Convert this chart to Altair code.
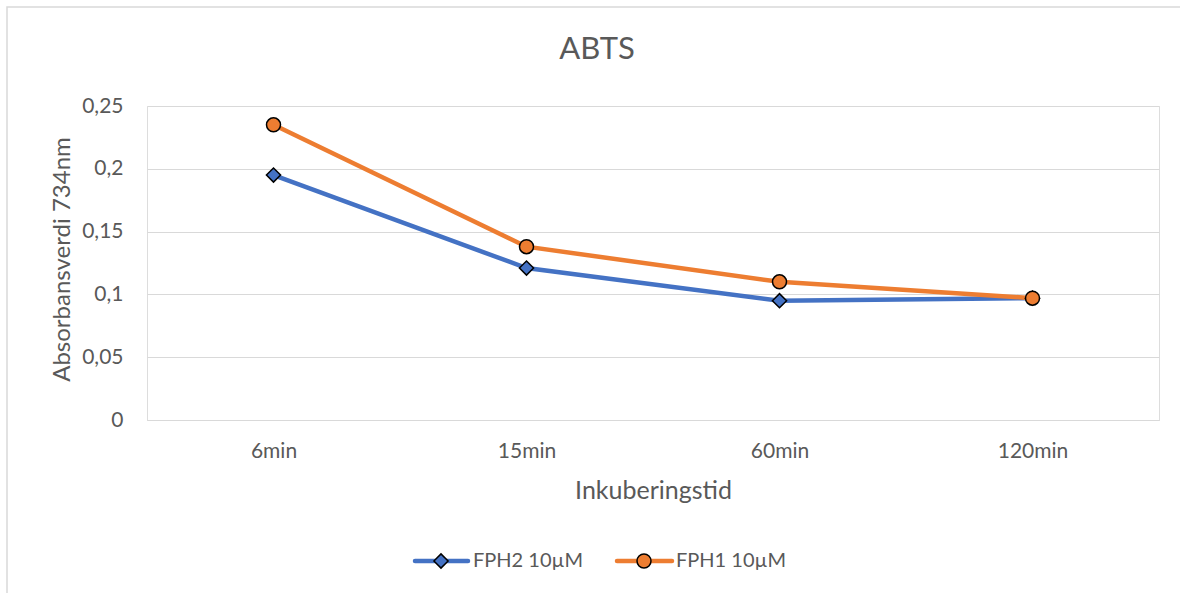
import altair as alt
import pandas as pd

# ---- data ----
times = ["6min", "15min", "60min", "120min"]
series_names = ["FPH2 10µM", "FPH1 10µM"]
fph2_values = [0.195, 0.121, 0.095, 0.097]
fph1_values = [0.235, 0.138, 0.110, 0.097]
y_ticks = [0, 0.05, 0.10, 0.15, 0.20, 0.25]
title_text = ["ABTS"]
x_title = "Inkuberingstid"
y_title = "Absorbansverdi 734nm"

colors = ["#4472C4", "#ED7D31"]
shapes = ["diamond", "circle"]
FONT = "Lato"
TXT = "#595959"
GRID = "#D9D9D9"

rows = []
for s, vals in zip(series_names, [fph2_values, fph1_values]):
    for t, v in zip(times, vals):
        rows.append({"time": t, "series": s, "value": v})
df = pd.DataFrame(rows)

W, H = 1012, 314
color_scale = alt.Scale(domain=series_names, range=colors)

x_enc = alt.X(
    "time:N",
    sort=times,
    scale=alt.Scale(type="point", padding=0.5),
    axis=alt.Axis(
        title=x_title, labelAngle=0, labelFont=FONT, labelFontSize=21,
        labelColor=TXT, labelPadding=31, labelBaseline="middle",
        ticks=False, tickSize=0, domain=True, domainColor=GRID, domainWidth=1,
        grid=False, titleFont=FONT, titleFontSize=25, titleFontWeight="normal",
        titleColor=TXT, titleX=W / 2, titleY=70, titleBaseline="middle",
        titleAlign="center",
    ),
)
y_enc = alt.Y(
    "value:Q",
    scale=alt.Scale(domain=[0, 0.25], nice=False, zero=True),
    axis=alt.Axis(
        title=y_title, values=y_ticks,
        labelExpr="replace(format(datum.value, '~g'), '.', ',')",
        labelFont=FONT, labelFontSize=21, labelColor=TXT, labelPadding=24,
        ticks=False, tickSize=0, domain=False, grid=True, gridColor=GRID,
        gridWidth=1, titleFont=FONT, titleFontSize=24, titleFontWeight="normal",
        titleColor=TXT, titleX=-85, titleY=H / 2 - 4, titleAngle=-90,
        titleBaseline="middle", titleAlign="center",
    ),
)

lines = alt.Chart(df).mark_line(strokeWidth=4.5).encode(
    x=x_enc, y=y_enc,
    color=alt.Color("series:N", scale=color_scale, legend=None),
    order=alt.Order("series:N"),
)

points_fph2 = alt.Chart(df[df.series == series_names[0]]).mark_point(
    shape="diamond", size=200, filled=True, fill=colors[0], stroke="black",
    strokeWidth=1.5, opacity=1,
).encode(x=alt.X("time:N", sort=times), y="value:Q")

points_fph1 = alt.Chart(df[df.series == series_names[1]]).mark_point(
    shape="circle", size=196, filled=True, fill=colors[1], stroke="black",
    strokeWidth=1.5, opacity=1,
).encode(x=alt.X("time:N", sort=times), y="value:Q")

# ---- frame border ----
one = pd.DataFrame({"k": [0]})
border = alt.Chart(one).mark_rect(
    filled=False, stroke=GRID, strokeWidth=1.5
).encode(x=alt.value(-140), y=alt.value(-99), x2=alt.value(1300), y2=alt.value(700))

# ---- title ----
title = alt.Chart(pd.DataFrame({"t": title_text})).mark_text(
    font=FONT, fontSize=31, color=TXT, align="center", baseline="middle"
).encode(text="t:N", x=alt.value(450), y=alt.value(-56))

# ---- manual legend ----
leg_y = 455
legend_layers = []
leg_specs = [
    (series_names[0], colors[0], shapes[0], 200, 268, 321, 294, 326),
    (series_names[1], colors[1], shapes[1], 196, 470, 525, 497, 529),
]
for name, col, shp, sz, lx1, lx2, mx, tx in leg_specs:
    d = pd.DataFrame({"series": [name]})
    legend_layers.append(
        alt.Chart(d).mark_rule(color=col, strokeWidth=4.5, strokeCap="round").encode(
            x=alt.value(lx1), x2=alt.value(lx2), y=alt.value(leg_y)
        )
    )
    legend_layers.append(
        alt.Chart(d).mark_point(
            shape=shp, size=sz, filled=True, fill=col, stroke="black",
            strokeWidth=1.5, opacity=1,
        ).encode(x=alt.value(mx), y=alt.value(leg_y))
    )
    legend_layers.append(
        alt.Chart(d).mark_text(
            font=FONT, fontSize=20, color=TXT, align="left", baseline="middle"
        ).encode(text="series:N", x=alt.value(tx), y=alt.value(leg_y))
    )

chart = alt.layer(
    border, lines, points_fph2, points_fph1, title, *legend_layers
).properties(
    width=W, height=H,
    autosize=alt.AutoSizeParams(type="none"),
    padding={"left": 147, "top": 106, "right": 21, "bottom": 173},
).configure_view(stroke=None).configure(background="white")

chart.save("out.html", embed_options={"renderer": "svg", "actions": False})
